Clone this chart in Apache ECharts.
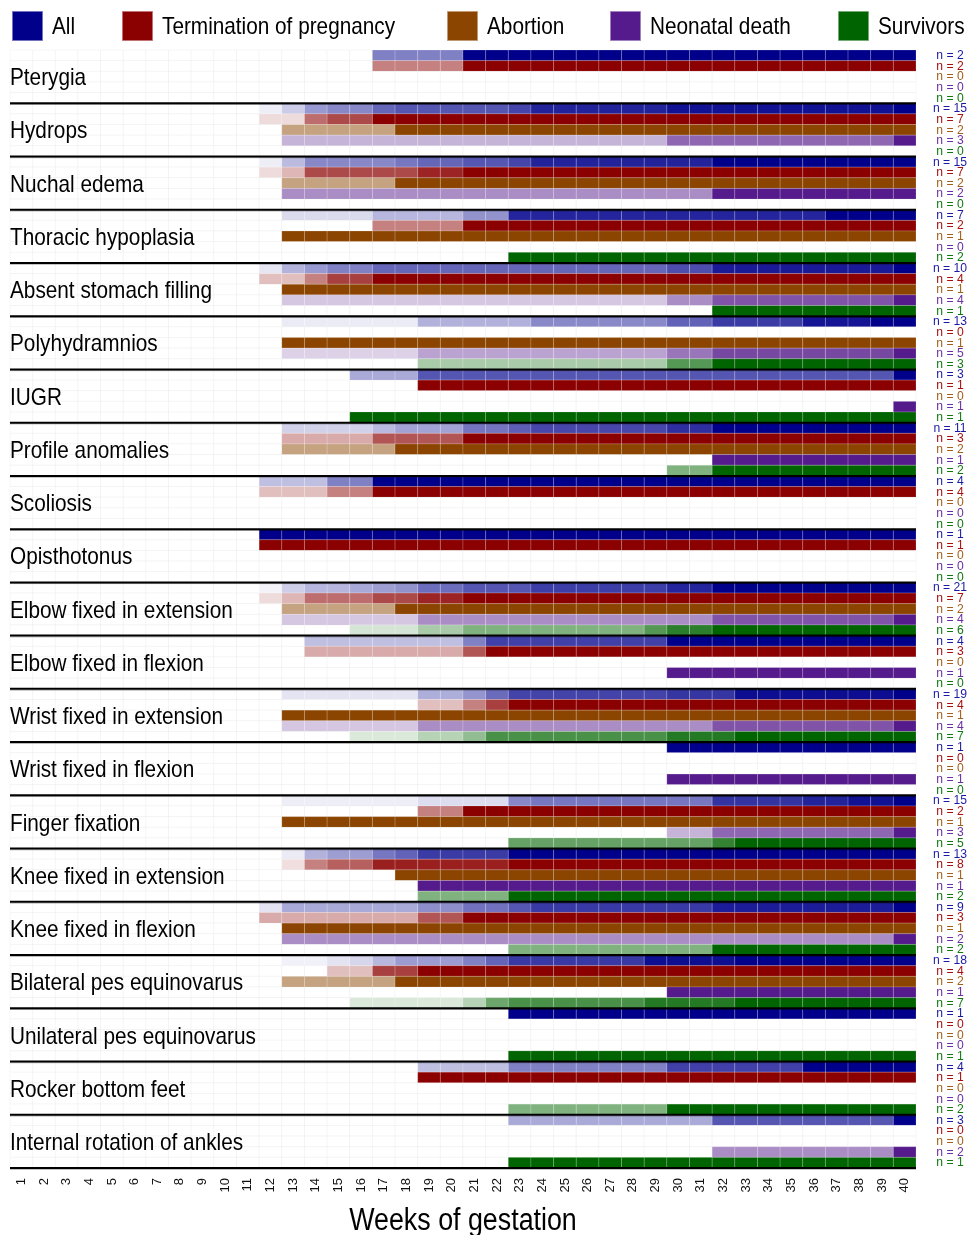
<!DOCTYPE html>
<html>
<head>
<meta charset="utf-8">
<script src="https://cdn.jsdelivr.net/npm/echarts@6/dist/echarts.min.js"></script>
<style>
  html, body { margin: 0; padding: 0; background: #fff; }
  #chart { width: 969px; height: 1235px; }
</style>
</head>
<body>
<div id="chart"></div>
<script>
// Gestational week tick labels
const weekLabels = ['1','2','3','4','5','6','7','8','9','10','11','12','13','14','15','16','17','18','19','20',
  '21','22','23','24','25','26','27','28','29','30','31','32','33','34','35','36','37','38','39','40'];

const features = [
  'Pterygia', 'Hydrops', 'Nuchal edema', 'Thoracic hypoplasia', 'Absent stomach filling',
  'Polyhydramnios', 'IUGR', 'Profile anomalies', 'Scoliosis', 'Opisthotonus',
  'Elbow fixed in extension', 'Elbow fixed in flexion', 'Wrist fixed in extension',
  'Wrist fixed in flexion', 'Finger fixation', 'Knee fixed in extension', 'Knee fixed in flexion',
  'Bilateral pes equinovarus', 'Unilateral pes equinovarus', 'Rocker bottom feet',
  'Internal rotation of ankles'
];

const outcomes = ['All', 'Termination of pregnancy', 'Abortion', 'Neonatal death', 'Survivors'];
const outcomeColors = ['#00008b', '#8b0000', '#8b4500', '#551a8b', '#006400'];
const countColors = ['#1a1aa6', '#a80f0f', '#a2601a', '#6a2fa6', '#0f7a0f'];

// Week of first detection for every case, per feature (one list per outcome group)
const allCases = [
  [17, 21],
  [12, 13, 13, 14, 14, 14, 15, 17, 17, 18, 23, 24, 24, 30, 40],
  [12, 13, 13, 13, 14, 14, 14, 18, 19, 21, 23, 24, 24, 32, 32],
  [13, 17, 21, 23, 23, 23, 37],
  [12, 13, 13, 14, 15, 17, 30, 32, 32, 40],
  [13, 19, 19, 19, 24, 24, 30, 30, 32, 32, 36, 36, 39],
  [16, 19, 40],
  [13, 13, 17, 18, 21, 21, 23, 24, 30, 32, 32],
  [12, 15, 17, 17],
  [12],
  [12, 13, 13, 13, 14, 14, 16, 17, 18, 19, 19, 19, 21, 21, 24, 24, 30, 30, 32, 32, 32],
  [14, 21, 22, 30],
  [13, 13, 19, 19, 19, 19, 21, 21, 22, 22, 22, 23, 23, 23, 30, 33, 33, 33, 40],
  [30],
  [13, 19, 23, 23, 23, 23, 23, 24, 32, 32, 32, 32, 36, 38, 40],
  [13, 14, 14, 14, 15, 17, 17, 18, 19, 19, 23, 23, 23],
  [12, 13, 13, 19, 21, 23, 24, 32, 40],
  [13, 15, 16, 17, 17, 18, 18, 21, 21, 22, 22, 23, 23, 23, 29, 29, 29, 33],
  [23],
  [19, 23, 30, 36],
  [23, 32, 40]
];

const terminationCases = [
  [17, 21],
  [12, 14, 14, 14, 15, 17, 17],
  [12, 13, 14, 14, 14, 19, 21],
  [17, 21],
  [12, 14, 15, 17],
  [],
  [19],
  [13, 17, 21],
  [12, 15, 17, 17],
  [12],
  [12, 13, 14, 14, 17, 19, 21],
  [14, 21, 22],
  [19, 21, 22, 23],
  [],
  [19, 21],
  [13, 14, 14, 14, 15, 17, 17, 23],
  [12, 19, 21],
  [15, 17, 17, 19],
  [],
  [19],
  []
];

const abortionCases = [
  [], [13, 18], [13, 18], [13], [13], [13], [], [13, 18], [], [],
  [13, 18], [], [13], [], [13], [18], [13], [13, 18], [], [], []
];

const neonatalCases = [
  [], [13, 30, 40], [13, 32], [], [13, 30, 32, 40], [13, 19, 30, 32, 40], [40], [32], [], [],
  [13, 19, 32, 40], [30], [13, 19, 32, 40], [30], [30, 32, 40], [19], [13, 40], [30], [], [], [32, 40]
];

const survivorCases = [
  [], [], [], [23, 23], [32], [19, 30, 32], [16], [30, 32], [], [],
  [16, 19, 21, 29, 30, 32], [], [16, 19, 21, 22, 22, 30, 33], [], [23, 23, 23, 32, 33],
  [19, 23], [23, 32], [16, 21, 22, 22, 23, 29, 33], [23], [23, 30], [23]
];

const caseGroups = [allCases, terminationCases, abortionCases, neonatalCases, survivorCases];

// Arial-metric face, squeezed horizontally to a narrow cut
const FONT = "'Liberation Sans', Arial, sans-serif";
const NARROW = 0.865;
const ROWS = features.length * outcomes.length;

// Tint a base colour toward white by the detected fraction
function tint(hex, f) {
  const r = parseInt(hex.slice(1, 3), 16), g = parseInt(hex.slice(3, 5), 16), b = parseInt(hex.slice(5, 7), 16);
  const m = c => Math.round(255 - (255 - c) * f);
  return 'rgb(' + m(r) + ',' + m(g) + ',' + m(b) + ')';
}

// One cell per (week, row): cumulative share of cases detected by that week
const cells = [];
const countLabels = [];
features.forEach((name, fi) => {
  outcomes.forEach((o, oi) => {
    const row = fi * 5 + oi;
    const cases = caseGroups[oi][fi];
    const n = cases.length;
    countLabels.push([39, row + 0.5, n, oi]);
    for (let w = 1; w <= 40; w++) {
      const k = cases.filter(c => c <= w).length;
      cells.push([w - 1, row, n ? k / n : 0, oi]);
    }
  });
});

const separators = [];
for (let b = 5; b <= ROWS; b += 5) separators.push([0, b]);

const featureLabels = features.map((f, i) => [0, i * 5 + 2.5, i]);

// Legend row: swatch left edges
const legendX = [12, 122, 447, 610, 838];
const legendElements = [];
outcomes.forEach((o, i) => {
  legendElements.push({
    type: 'rect', left: legendX[i], top: 11,
    shape: { width: 30, height: 29 },
    style: { fill: outcomeColors[i], stroke: tint(outcomeColors[i], 0.55), lineWidth: 1 }
  });
  legendElements.push({
    type: 'text', x: legendX[i] + 40, y: 27, scaleX: NARROW,
    style: {
      text: o, fill: '#000', fontSize: 24, fontFamily: FONT,
      align: 'left', verticalAlign: 'middle', textAlign: 'left', textVerticalAlign: 'middle'
    }
  });
});
legendElements.push({
  type: 'text', x: 463, y: 1221, scaleX: NARROW,
  style: {
    text: 'Weeks of gestation', fill: '#000', fontSize: 31, fontFamily: FONT,
    align: 'center', verticalAlign: 'middle', textAlign: 'center', textVerticalAlign: 'middle'
  }
});

const chart = echarts.init(document.getElementById('chart'), null, { renderer: 'canvas' });

chart.setOption({
  animation: false,
  backgroundColor: '#fff',
  graphic: { elements: legendElements },
  grid: { left: 10, right: 53, top: 50, bottom: 67, containLabel: false, outerBoundsMode: 'none' },
  xAxis: {
    type: 'category', data: weekLabels, boundaryGap: true,
    axisLine: { show: false }, axisTick: { show: false }, splitLine: { show: false },
    axisLabel: { rotate: 90, fontSize: 13, color: '#111', margin: 10, fontFamily: FONT, interval: 0 }
  },
  yAxis: {
    type: 'value', min: 0, max: ROWS, inverse: true, show: false
  },
  series: [
    {
      type: 'custom', name: 'cells', data: cells, encode: { x: 0, y: 1 }, silent: true, z: 1,
      renderItem(params, api) {
        const x = api.value(0), row = api.value(1), f = api.value(2), oi = api.value(3);
        const c = api.coord([x, row + 0.5]);
        const s = api.size([1, 1]);
        return {
          type: 'rect',
          shape: { x: c[0] - s[0] / 2, y: c[1] - s[1] / 2, width: s[0], height: s[1] },
          style: {
            fill: f > 0 ? tint(outcomeColors[oi], f) : '#ffffff',
            stroke: f > 0 ? 'rgba(255,255,255,0.22)' : 'rgba(0,0,0,0.045)',
            lineWidth: 0.8
          }
        };
      }
    },
    {
      type: 'custom', name: 'separators', data: separators, encode: { x: 0, y: 1 }, silent: true, z: 3,
      renderItem(params, api) {
        const s = api.size([1, 1]);
        const a = api.coord([0, api.value(1)]);
        const b = api.coord([39, api.value(1)]);
        return {
          type: 'group', children: [
            { type: 'line', shape: { x1: a[0] - s[0] / 2, y1: a[1] + 1.2, x2: b[0] + s[0] / 2, y2: b[1] + 1.2 },
              style: { stroke: 'rgba(0,0,0,0.35)', lineWidth: 1 } },
            { type: 'line', shape: { x1: a[0] - s[0] / 2, y1: a[1], x2: b[0] + s[0] / 2, y2: b[1] },
              style: { stroke: '#000', lineWidth: 2 } }
          ]
        };
      }
    },
    {
      type: 'custom', name: 'featureLabels', data: featureLabels, encode: { x: 0, y: 1 }, silent: true, z: 5,
      renderItem(params, api) {
        const s = api.size([1, 1]);
        const c = api.coord([0, api.value(1)]);
        return {
          type: 'text', x: c[0] - s[0] / 2, y: c[1] + 2, scaleX: NARROW,
          style: {
            text: features[api.value(2)], fill: '#000', fontSize: 24, fontFamily: FONT,
            align: 'left', verticalAlign: 'middle', textAlign: 'left', textVerticalAlign: 'middle'
          }
        };
      }
    },
    {
      type: 'custom', name: 'counts', data: countLabels, encode: { x: 0, y: 1 }, silent: true, z: 5,
      renderItem(params, api) {
        const s = api.size([1, 1]);
        const c = api.coord([api.value(0), api.value(1)]);
        return {
          type: 'text', x: c[0] + s[0] / 2 + 34, y: c[1], scaleX: 0.9,
          style: {
            text: 'n = ' + api.value(2), fill: countColors[api.value(3)], fontSize: 13.5, fontFamily: FONT,
            align: 'center', verticalAlign: 'middle', textAlign: 'center', textVerticalAlign: 'middle'
          }
        };
      }
    }
  ]
});
</script>
</body>
</html>
